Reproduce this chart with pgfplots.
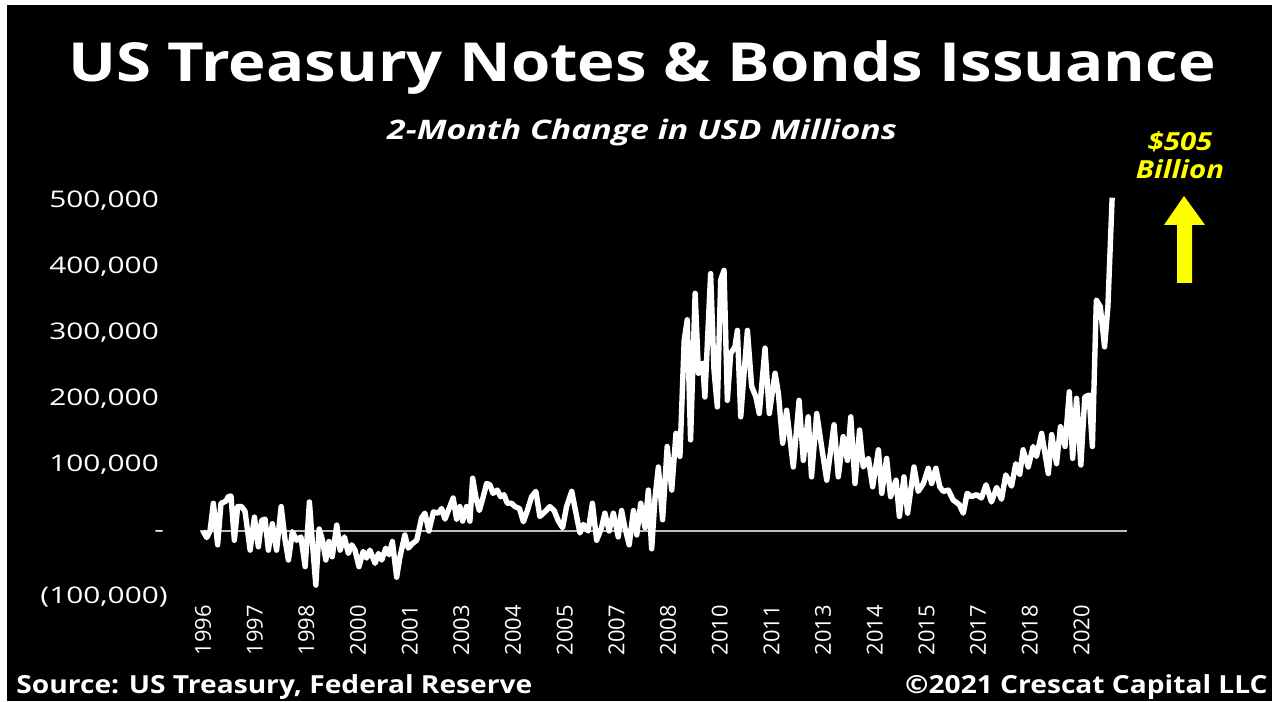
\documentclass[border=0pt]{standalone}
\usepackage{fontspec}
\setmainfont{Open Sans}
\usepackage{graphicx}
\usepackage{pgfplots}
\pgfplotsset{compat=1.18}
\definecolor{ylw}{RGB}{255,255,0}
\definecolor{zgray}{RGB}{190,190,190}
\newcommand{\yl}[1]{\scalebox{1.3}[1]{#1}}
\begin{document}
\begin{tikzpicture}[x=0.5bp,y=0.5bp]
\fill[white] (0,0) rectangle (1278,701);
\fill[black] (7,0) rectangle (1272,696);
\node[anchor=base, text=white, font=\bfseries\fontsize{27}{30}\selectfont, inner sep=0pt] at (642,619) {\scalebox{1.18}[1]{US Treasury Notes \& Bonds Issuance}};
\node[anchor=base, text=white, font=\bfseries\itshape\fontsize{13.5}{15}\selectfont, inner sep=0pt] at (642,561) {\scalebox{1.26}[1]{2-Month Change in USD Millions}};
\node[anchor=base, text=ylw, font=\bfseries\itshape\fontsize{12.5}{14}\selectfont, inner sep=0pt] at (1180,550) {\scalebox{1.18}[1]{\$505}};
\node[anchor=base, text=ylw, font=\bfseries\itshape\fontsize{12.5}{14}\selectfont, inner sep=0pt] at (1180,522) {\scalebox{1.18}[1]{Billion}};
\fill[ylw] (1184,505) -- (1205,476) -- (1192,476) -- (1192,418) -- (1177,418) -- (1177,476) -- (1164,476) -- cycle;
\node[anchor=base west, text=white, font=\bfseries\fontsize{12.5}{14}\selectfont, inner sep=0pt] at (16,8) {\scalebox{1.13}[1]{Source: US Treasury, Federal Reserve}};
\node[anchor=base east, text=white, font=\bfseries\fontsize{12.5}{14}\selectfont, inner sep=0pt] at (1268,8) {\scalebox{1.13}[1]{\textcopyright2021 Crescat Capital LLC}};
\begin{axis}[
  at={(100bp,52bp)}, anchor=south west,
  scale only axis, width=463.5bp, height=204.6bp,
  xmin=-1, xmax=304, ymin=-100000, ymax=520000,
  clip=false,
  scaled y ticks=false,
  axis line style={draw=none},
  major tick length=0pt,
  xtick={0,17,34,51,68,85,102,119,136,153,170,187,204,221,238,255,272,289},
  xticklabels={1996,1997,1998,2000,2001,2003,2004,2005,2007,2008,2010,2011,2013,2014,2015,2017,2018,2020},
  xticklabel style={rotate=90, anchor=east, inner sep=0pt, text=white, font=\fontsize{11}{12}\selectfont},
  xticklabel shift=4bp,
  ytick={-100000,0,100000,200000,300000,400000,500000},
  yticklabels={{\yl{(100,000)}},{\yl{-\hspace{-2bp}\phantom{)}}},{\yl{100,000\phantom{)}}},{\yl{200,000\phantom{)}}},{\yl{300,000\phantom{)}}},{\yl{400,000\phantom{)}}},{\yl{500,000\phantom{)}}}},
  yticklabel style={anchor=east, inner sep=0pt, text=white, font=\fontsize{11.5}{13}\selectfont, xshift=-16bp},
]
\draw[zgray, line width=1bp] (axis cs:-1,0) -- (axis cs:304,0);
\addplot[white, line width=2.7bp, line join=round, mark=none] coordinates {
(0,0) (1.2,-10000) (2.3,0) (3.4,42000) (4.8,-21000) (5.9,42000) (7.5,45000) (8.3,52000) (9.2,53000) (10.3,-14000)
(11.4,37000) (12.7,37000) (13.8,30000) (15.5,-29000) (16.9,21000) (18.2,-24000) (19.3,16000) (20.4,18000) (21.5,-29000) (22.8,11000)
(24.2,-29000) (25.7,37000) (27,-14000) (28.1,-44000) (29.4,-1000) (30.8,-14000) (32.2,-9000) (33.6,-54000) (35,44000) (36,-19000)
(37.1,-82000) (38.2,3000) (39.3,-14000) (40.4,-44000) (41.4,-16000) (42.5,-39000) (44,9000) (45.1,-29000) (46.5,-9000) (47.8,-34000)
(48.9,-21000) (50,-29000) (51.3,-54000) (52.7,-31000) (53.8,-41000) (54.9,-29000) (56.6,-49000) (57.7,-34000) (58.8,-44000) (60.1,-26000)
(61.2,-36000) (62.3,-16000) (63.7,-70000) (64.8,-39000) (66.4,-6000) (67.5,-26000) (68.9,-19000) (70.3,-14000) (71.9,20000) (73,27000)
(74.3,0) (75.8,29000) (77.4,27000) (78.5,34000) (79.6,18000) (80.7,31000) (82.3,50000) (83.4,18000) (84.5,37000) (85.4,15000)
(86.7,37000) (87.8,15000) (88.7,80000) (89.8,50000) (90.9,31000) (92.2,52000) (93.3,72000) (94.4,70000) (95.4,57000) (96.8,62000)
(97.9,52000) (99,55000) (100.1,42000) (101.5,42000) (102.6,37000) (104.1,34000) (105.4,14000) (106.7,31000) (108.1,52000) (109.5,60000)
(110.8,22000) (112.5,29000) (114.1,37000) (115.5,31000) (116.9,15000) (118.3,5000) (119.6,37000) (121.3,60000) (122.7,27000) (124,-3000)
(125.1,10000) (126.7,0) (128.1,42000) (129.5,-14000) (131.1,5000) (132.2,27000) (133.6,0) (135,27000) (136.6,-9000) (137.7,31000)
(138.8,5000) (140.2,-21000) (141.6,31000) (142.7,-6000) (144,42000) (145.4,5000) (146.5,62000) (147.6,-27000) (148.7,50000) (149.8,97000)
(151.2,17000) (152.7,128000) (154.2,62000) (155.6,148000) (156.9,113000) (158.3,289000) (159.3,320000) (160.4,138000) (161.9,360000) (163,239000)
(164.4,254000) (165.1,203000) (167,390000) (168.1,244000) (169.2,188000) (170.3,380000) (171.4,395000) (172.5,198000) (173.6,269000) (175,279000)
(175.8,304000) (176.9,173000) (178,239000) (179.1,304000) (180.5,219000) (181.9,203000) (183,178000) (184.9,277000) (186.3,178000) (188.2,239000)
(189.3,208000) (190.7,133000) (192,183000) (194.2,97000) (196.1,198000) (197.5,107000) (199.1,173000) (200.2,82000) (201.9,178000) (203.5,128000)
(205.2,77000) (207.6,161000) (209,82000) (210.6,143000) (212,107000) (213.1,173000) (214.5,72000) (216,153000) (217.2,97000) (218.9,110000)
(220.3,67000) (222.2,123000) (223.3,57000) (224.9,110000) (226.2,52000) (228,77000) (229.1,22000) (230.6,82000) (231.8,27000) (233.9,97000)
(235.3,60000) (237,72000) (238.6,95000) (239.7,72000) (241.1,95000) (242.4,67000) (243.5,60000) (245.2,62000) (246.8,47000) (248.8,40000)
(250.1,27000) (251.4,57000) (252.8,52000) (254.5,55000) (256.1,50000) (257.6,70000) (259.4,44000) (261.1,66000) (262.7,48000) (264.1,85000)
(266,68000) (267.4,102000) (268.7,86000) (269.8,123000) (271.5,97000) (273.1,128000) (274.2,113000) (275.9,148000) (278.1,87000) (279.2,146000)
(280.8,102000) (282.1,158000) (283.6,128000) (285,211000) (286.1,110000) (287.4,201000) (288.8,100000) (290.1,203000) (291.5,206000) (292.6,128000)
(293.9,350000) (295.2,340000) (296.6,279000) (297.7,340000) (299.1,505000)
};
\end{axis}
\pgfresetboundingbox
\useasboundingbox (0,0) rectangle (1278,701);
\end{tikzpicture}
\end{document}
